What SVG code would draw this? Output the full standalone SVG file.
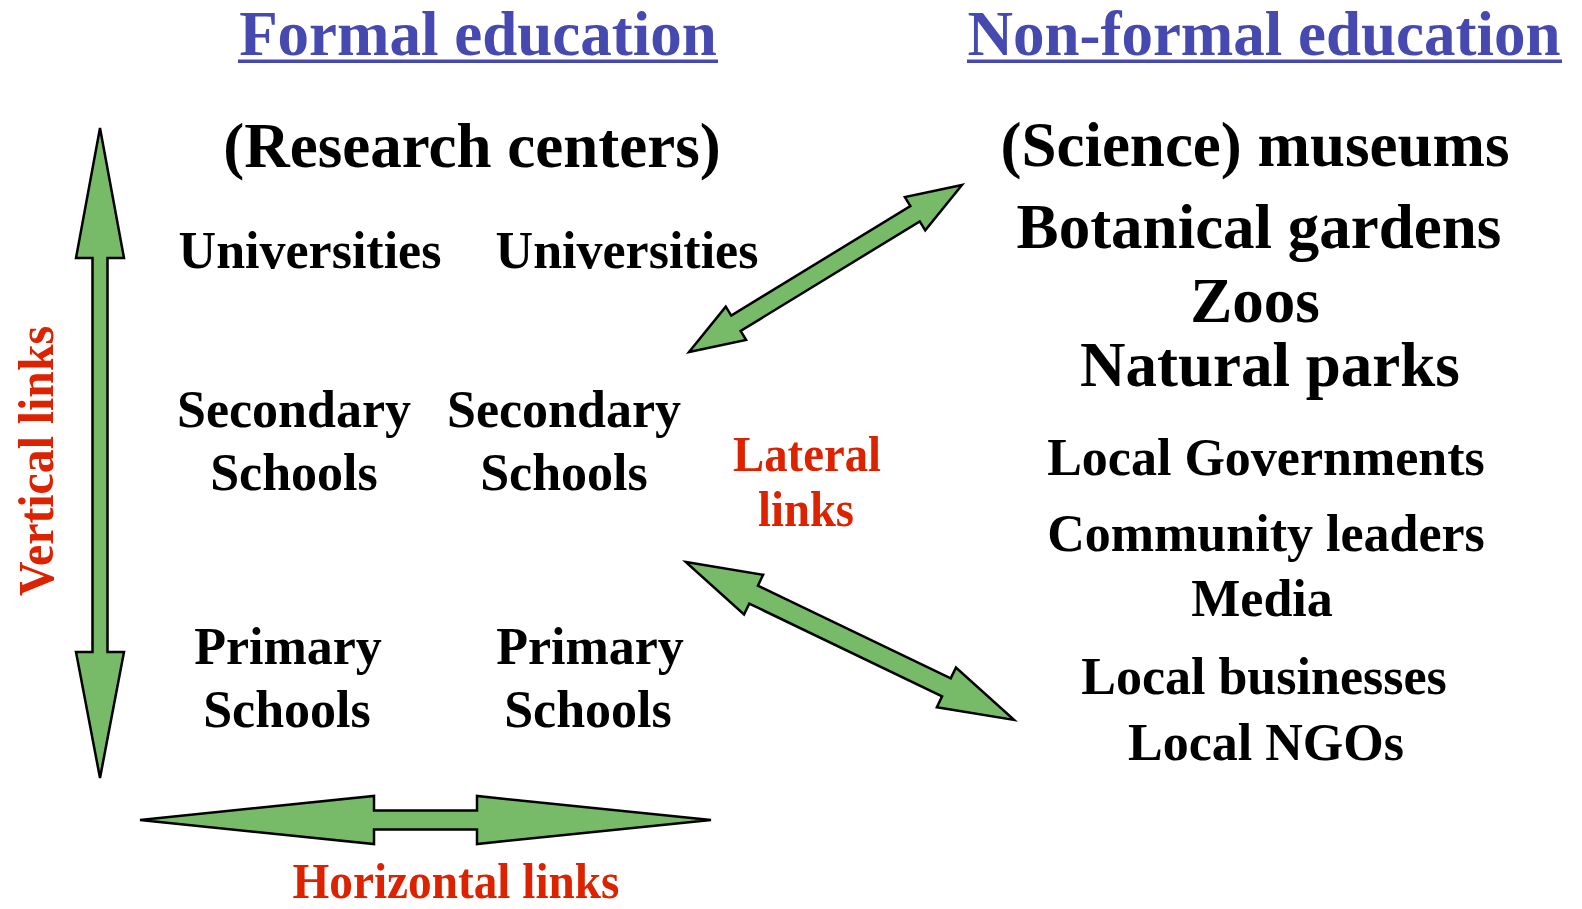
<svg xmlns="http://www.w3.org/2000/svg" width="1582" height="909" viewBox="0 0 1582 909">
<style>
text{font-family:"Liberation Serif","Times New Roman",serif;font-weight:bold;text-anchor:middle}
.title{font-size:63px;fill:#4549b0}
.big{font-size:63px;fill:#000}
.mid{font-size:52px;fill:#000}
.red{font-size:50px;fill:#dd2200}
.arrow{fill:#77bb69;stroke:#000;stroke-width:2.5;stroke-linejoin:miter}
</style>
<rect width="1582" height="909" fill="#fff"/>
<g id="titles">
<text class="title" x="478" y="55">Formal education</text>
<rect x="238" y="59.5" width="480" height="3.5" fill="#4549b0"/>
<text class="title" x="1264" y="55">Non-formal education</text>
<rect x="967" y="59.5" width="595" height="3.5" fill="#4549b0"/>
</g>
<g id="formal">
<text class="big" x="472" y="167">(Research centers)</text>
<text class="mid" x="310" y="268">Universities</text>
<text class="mid" x="627" y="268">Universities</text>
<text class="mid" x="294" y="427">Secondary</text>
<text class="mid" x="294" y="490">Schools</text>
<text class="mid" x="564" y="427">Secondary</text>
<text class="mid" x="564" y="490">Schools</text>
<text class="mid" x="288" y="664">Primary</text>
<text class="mid" x="287" y="727">Schools</text>
<text class="mid" x="590" y="664">Primary</text>
<text class="mid" x="588" y="727">Schools</text>
</g>
<g id="nonformal">
<text class="big" x="1255" y="166">(Science) museums</text>
<text class="big" x="1259" y="248">Botanical gardens</text>
<text class="big" x="1255" y="322">Zoos</text>
<text class="big" x="1270" y="386">Natural parks</text>
<text class="mid" x="1266" y="475">Local Governments</text>
<text class="mid" x="1266" y="551">Community leaders</text>
<text class="mid" x="1262" y="616">Media</text>
<text class="mid" x="1264" y="694">Local businesses</text>
<text class="mid" x="1266" y="760">Local NGOs</text>
</g>
<g id="labels">
<text class="red" x="807" y="471" textLength="148" lengthAdjust="spacingAndGlyphs">Lateral</text>
<text class="red" x="806" y="526" textLength="96" lengthAdjust="spacingAndGlyphs">links</text>
<text class="red" x="456" y="898" textLength="327" lengthAdjust="spacingAndGlyphs">Horizontal links</text>
<text class="red" transform="translate(53,461) rotate(-90)" x="0" y="0" textLength="270" lengthAdjust="spacingAndGlyphs">Vertical links</text>
</g>
<g id="connectors">
<polygon class="arrow" points="100,128 124,258 107.5,258 107.5,652 124,652 100,778 76,652 92.5,652 92.5,258 76,258"/>
<polygon class="arrow" points="140,820 374,796 374,810.5 477,810.5 477,796 711,820 477,844 477,829.5 374,829.5 374,844"/>
<polygon class="arrow" transform="translate(825.5,268.5) rotate(-31.46)" points="-160,0 -105,-19.5 -105,-9 105,-9 105,-19.5 160,0 105,19.5 105,9 -105,9 -105,19.5"/>
<polygon class="arrow" transform="translate(850,641) rotate(25.7)" points="-182,0 -107,-22 -107,-10 107,-10 107,-22 182,0 107,22 107,10 -107,10 -107,22"/>
</g>
</svg>
